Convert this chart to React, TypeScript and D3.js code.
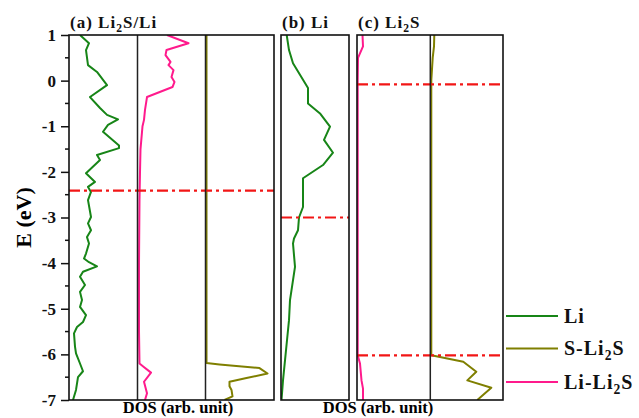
import { useRef, useEffect } from "react";
import * as d3 from "d3";

// energies (eV) vs DOS (arb. unit)
const liA: [number, number][] = [
  [1, 11], [0.82, 20], [0.67, 17], [0.34, 19], [0.19, 28], [-0.1, 38], [-0.36, 21],
  [-0.6, 31], [-0.75, 38], [-0.85, 49], [-0.97, 39], [-1.12, 34], [-1.42, 50], [-1.48, 50],
  [-1.63, 28], [-1.74, 31], [-2.03, 17], [-2.22, 26], [-2.33, 19], [-2.44, 22], [-2.62, 19],
  [-2.99, 22], [-3.13, 19], [-3.28, 22], [-3.43, 18], [-3.57, 20], [-3.79, 17], [-3.9, 15],
  [-3.98, 20], [-4.07, 28], [-4.19, 14], [-4.3, 11], [-4.48, 16], [-4.63, 11], [-4.81, 13],
  [-4.96, 11], [-5.14, 17], [-5.29, 14], [-5.4, 8], [-5.54, 5], [-5.83, 6], [-5.98, 7],
  [-6.2, 11], [-6.37, 14], [-6.5, 9], [-6.78, 7], [-7, 4],
];
const liLi2SA: [number, number][] = [
  [1, 29.5], [0.82, 51], [0.67, 29], [0.56, 28], [0.41, 33], [0.34, 31], [0.23, 36],
  [0.08, 34], [-0.03, 37], [-0.14, 35], [-0.36, 9.5], [-0.64, 7.5], [-0.86, 6.5], [-1.0, 5],
  [-1.5, 3], [-2.0, 2.5], [-2.6, 2], [-4, 1.5], [-5.5, 1.5], [-6.2, 2], [-6.27, 6],
  [-6.4, 13.5], [-6.6, 6.5], [-6.85, 9.5], [-7, 7.5],
];
const sLi2SA: [number, number][] = [
  [1, 1], [-6.19, 1], [-6.22, 14], [-6.3, 54], [-6.42, 62], [-6.52, 41], [-6.6, 24],
  [-6.7, 24], [-6.78, 26], [-6.92, 27], [-7, 19],
];
const liB: [number, number][] = [
  [1, 5.7], [0.67, 8], [0.38, 12], [-0.16, 27], [-0.5, 27], [-0.72, 39], [-1.01, 49],
  [-1.3, 43], [-1.58, 52], [-1.85, 42], [-2.14, 22], [-2.77, 22], [-3.0, 18], [-3.28, 17],
  [-3.46, 13], [-3.57, 12], [-4.08, 14], [-4.52, 11], [-4.81, 9], [-5.25, 8], [-5.69, 6],
  [-6.13, 4], [-6.57, 2], [-7, 0.5],
];
const liLi2SC: [number, number][] = [
  [1, 5.5], [0.75, 6], [0.5, 1], [0, 0.7], [-6.02, 0.7], [-6.2, 3], [-6.57, 4.5],
  [-6.75, 6], [-7, 6],
];
const sLi2SC: [number, number][] = [
  [1, 4], [0.75, 3.7], [0.5, 2.4], [0.01, 1], [-6.02, 1], [-6.16, 33], [-6.38, 46],
  [-6.57, 37], [-6.73, 61], [-7, 47],
];

const fermiA = [-2.41];
const fermiB = [-3.0];
const fermiC = [-0.08, -6.02];

const eTicks = [1, 0, -1, -2, -3, -4, -5, -6, -7];

const COLORS = { Li: "#178517", S: "#7f7f00", LiS: "#ff1a8c" };

export default function App() {
  const svgRef = useRef<SVGSVGElement>(null);

  useEffect(() => {
    const svg = d3.select(svgRef.current);
    svg.selectAll("*").remove();

    const width = 639;
    const height = 418;
    const top = 35;
    const bottom = 400;
    const font = "'Liberation Serif', 'Times New Roman', serif";

    svg.attr("width", width).attr("height", height).style("font-family", font);

    const y = d3.scaleLinear().domain([1, -7]).range([top, bottom]);

    // panels: [x0, x1, sub-panel dividers]
    const panels = [
      { x0: 69, x1: 274, subs: [137.5, 205.5], fermi: fermiA },
      { x0: 281, x1: 349, subs: [], fermi: fermiB },
      { x0: 357, x1: 503, subs: [430.3], fermi: fermiC },
    ];

    const defs = svg.append("defs");
    panels.forEach((p, i) => {
      defs.append("clipPath").attr("id", `clip${i}`)
        .append("rect").attr("x", p.x0).attr("y", top).attr("width", p.x1 - p.x0).attr("height", bottom - top);
    });

    const curves = [
      { data: liA, panel: 0, x0: 69, color: COLORS.Li },
      { data: liLi2SA, panel: 0, x0: 137.5, color: COLORS.LiS },
      { data: sLi2SA, panel: 0, x0: 205.5, color: COLORS.S },
      { data: liB, panel: 1, x0: 281, color: COLORS.Li },
      { data: liLi2SC, panel: 2, x0: 357, color: COLORS.LiS },
      { data: sLi2SC, panel: 2, x0: 430.3, color: COLORS.S },
    ];

    curves.forEach((c) => {
      const x = d3.scaleLinear().domain([0, 68]).range([c.x0, c.x0 + 68]);
      const line = d3.line<[number, number]>().x((d) => x(d[1])).y((d) => y(d[0]));
      svg.append("path")
        .attr("d", line(c.data))
        .attr("fill", "none")
        .attr("stroke", c.color)
        .attr("stroke-width", 2)
        .attr("stroke-linejoin", "round")
        .attr("clip-path", `url(#clip${c.panel})`);
    });

    panels.forEach((p) => {
      p.fermi.forEach((e) => {
        svg.append("line")
          .attr("x1", p.x0).attr("x2", p.x1)
          .attr("y1", y(e)).attr("y2", y(e))
          .attr("stroke", "#f21616")
          .attr("stroke-width", 2.2)
          .attr("stroke-dasharray", "11,4,3,4");
      });
      p.subs.forEach((sx) => {
        svg.append("line")
          .attr("x1", sx).attr("x2", sx).attr("y1", top).attr("y2", bottom)
          .attr("stroke", "#222").attr("stroke-width", 1.5);
      });
      svg.append("rect")
        .attr("x", p.x0).attr("y", top)
        .attr("width", p.x1 - p.x0).attr("height", bottom - top)
        .attr("fill", "none").attr("stroke", "#111").attr("stroke-width", 1.6);
    });

    // y axis on panel (a)
    const axis = svg.append("g")
      .attr("transform", `translate(69,0)`)
      .call(d3.axisLeft(y).tickValues(eTicks).tickSize(8).tickPadding(5).tickFormat(d3.format("d")));
    axis.select(".domain").remove();
    axis.selectAll("line").attr("stroke", "#111").attr("stroke-width", 1.5);
    axis.selectAll("text")
      .attr("font-size", 17).attr("font-weight", "bold").attr("font-family", font).attr("fill", "#111")
      .text((d: any) => (d < 0 ? "-" + Math.abs(d) : String(d)));
    const minor = d3.range(-6.5, 1, 1);
    svg.append("g").selectAll("line").data(minor).join("line")
      .attr("x1", 65).attr("x2", 69).attr("y1", (d) => y(d)).attr("y2", (d) => y(d))
      .attr("stroke", "#111").attr("stroke-width", 1.5);

    svg.append("text")
      .attr("transform", `translate(31,${(top + bottom) / 2}) rotate(-90)`)
      .attr("text-anchor", "middle")
      .attr("font-size", 22).attr("font-weight", "bold")
      .text("E (eV)");

    // titles with subscripts
    const label = (xPos: number, yPos: number, parts: [string, boolean][], size: number, spacing: number) => {
      const t = svg.append("text")
        .attr("x", xPos).attr("y", yPos)
        .attr("font-size", size).attr("font-weight", "bold").attr("fill", "#111")
        .attr("letter-spacing", spacing);
      let shifted = false;
      parts.forEach(([s, sub]) => {
        const ts = t.append("tspan").text(s);
        if (sub) {
          ts.attr("font-size", size * 0.68).attr("dy", size * 0.25);
          shifted = true;
        } else if (shifted) {
          ts.attr("dy", -size * 0.25);
          shifted = false;
        }
      });
    };
    label(70, 28, [["(a) Li", false], ["2", true], ["S/Li", false]], 17, 1);
    label(282, 28, [["(b) Li", false]], 17, 1);
    label(358, 28, [["(c) Li", false], ["2", true], ["S", false]], 17, 1);

    svg.append("text").attr("x", 178).attr("y", 413).attr("text-anchor", "middle")
      .attr("font-size", 16.5).attr("font-weight", "bold").text("DOS (arb. unit)");
    svg.append("text").attr("x", 378).attr("y", 413).attr("text-anchor", "middle")
      .attr("font-size", 16.5).attr("font-weight", "bold").text("DOS (arb. unit)");

    // legend
    const legend = [
      { parts: [["Li", false]] as [string, boolean][], color: COLORS.Li, ly: 316 },
      { parts: [["S-Li", false], ["2", true], ["S", false]] as [string, boolean][], color: COLORS.S, ly: 348.5 },
      { parts: [["Li-Li", false], ["2", true], ["S", false]] as [string, boolean][], color: COLORS.LiS, ly: 382 },
    ];
    legend.forEach((l) => {
      svg.append("line").attr("x1", 506).attr("x2", 558).attr("y1", l.ly).attr("y2", l.ly)
        .attr("stroke", l.color).attr("stroke-width", 2);
      label(564, l.ly + 6.5, l.parts, 20, 1);
    });
  }, []);

  return <svg ref={svgRef} style={{ position: "absolute", left: 0, top: 0, display: "block" }} />;
}
